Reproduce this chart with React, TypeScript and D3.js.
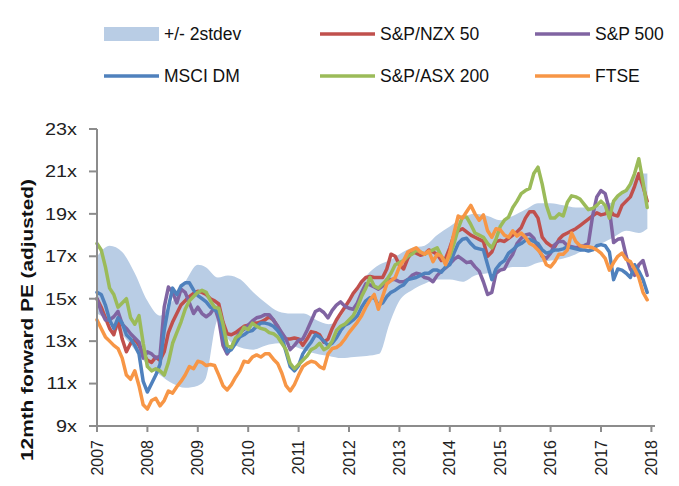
import React from 'react';
import * as d3 from 'd3';

// monthly readings, Jan 2007 .. Dec 2017
const nzx50 = [15.0, 14.6, 14.1, 13.6, 13.3, 14.0, 13.1, 12.5, 12.9, 13.1, 12.8, 12.4,
  12.1, 12.0, 12.25, 12.1, 12.5, 13.4, 13.9, 14.3, 14.7, 14.9, 15.1, 15.25,
  15.35, 15.3, 15.2, 15.0, 14.9, 14.75, 13.9, 13.35, 13.3, 13.4, 13.55, 13.7,
  13.75, 13.85, 13.85, 13.9, 14.0, 14.15, 14.0, 13.7, 13.3, 13.1, 13.1, 13.15,
  13.1, 12.8, 13.1, 13.45, 13.4, 13.3, 12.95, 13.1, 13.6, 14.0, 14.3, 14.6,
  14.9, 15.25, 15.5, 15.8, 16.0, 16.05, 16.0, 16.0, 16.0, 16.4, 17.1, 17.0,
  16.6, 16.4, 16.9, 17.2, 17.15, 17.05, 17.1, 17.3, 17.2, 17.1, 16.8, 16.9,
  17.4, 18.0, 18.2, 18.3, 18.15, 18.0, 17.9, 17.8, 17.7, 17.0, 17.2, 17.7,
  17.75, 17.7, 17.85, 18.0, 18.15, 18.35, 18.8, 19.1, 19.1, 18.8, 17.9, 17.65,
  17.5, 17.45, 17.8, 18.0, 18.1, 18.2, 18.3, 18.45, 18.6, 18.75, 18.9, 19.05,
  18.95, 19.0, 19.2, 18.95, 18.9, 19.4, 19.6, 19.8, 20.3, 20.9, 20.3, 19.6];

const sp500 = [15.0, 14.4, 14.0, 14.0, 14.15, 14.4, 13.8, 13.6, 13.35, 13.15, 12.95, 12.2,
  12.5, 12.4, 12.2, 12.3, 14.6, 15.55, 15.3, 14.8, 15.45, 15.3, 14.8, 14.3,
  14.6, 14.3, 14.15, 14.3, 14.6, 14.0, 12.8, 12.4, 12.7, 13.1, 13.4, 13.55,
  13.75, 13.95, 14.1, 14.15, 14.25, 14.25, 14.0, 13.7, 13.4, 13.1, 12.6, 12.8,
  13.05, 13.1, 13.5, 13.95, 14.4, 14.5, 14.35, 14.1, 14.45, 14.7, 14.85, 14.65,
  14.55, 14.5, 14.8, 15.3, 15.7, 15.65, 15.55, 15.45, 15.6, 15.9, 15.9, 15.9,
  15.8, 15.8, 15.9, 16.1, 16.2, 16.15, 16.0, 15.95, 15.8, 16.1, 16.3, 16.45,
  16.65, 16.85, 17.0, 16.85, 16.7, 16.75, 16.5, 16.3, 15.8, 15.2, 15.3, 16.2,
  16.35, 16.4, 16.8, 17.1, 17.6, 17.85, 18.0, 18.05, 17.85, 17.4, 17.0, 16.9,
  17.15, 17.55, 17.7, 17.7, 17.5, 17.45, 17.4, 17.45, 17.5, 17.6, 18.9, 19.8,
  20.1, 19.95, 19.2, 17.65, 17.8, 17.85, 17.0, 16.4, 16.1, 16.6, 16.8, 16.1];

const msciDm = [15.3, 15.2, 14.7, 14.0, 13.6, 14.1, 13.85, 13.3, 13.1, 12.8, 12.4, 11.1,
  10.6, 11.0, 11.4, 11.9, 13.5, 14.6, 15.5, 15.2, 15.6, 15.75, 15.75, 15.4,
  15.15, 15.0, 14.85, 14.6, 14.5, 14.3, 13.4, 12.5, 12.6, 12.9, 13.2, 13.3,
  13.45, 13.5, 13.7, 13.85, 13.85, 13.8, 13.7, 13.5, 13.2, 12.5, 11.8, 11.6,
  11.85, 12.4, 12.7, 12.95, 13.3, 13.2, 13.0, 12.8, 12.9, 13.15, 13.5, 13.75,
  13.85, 14.0, 14.2, 14.6, 14.9, 15.05, 15.05, 14.7, 14.8, 15.1, 15.3, 15.4,
  15.55, 15.65, 15.9, 15.95, 16.0, 16.1, 16.2, 16.2, 16.35, 16.35, 16.25, 16.5,
  16.6, 17.15, 17.6, 17.8, 17.85, 17.6, 17.4, 17.35, 17.3, 16.6, 15.9, 16.4,
  16.65, 16.8, 17.15, 17.3, 17.5, 17.6, 17.75, 17.8, 17.7, 17.6, 17.3, 17.15,
  17.2, 17.3, 17.3, 17.35, 17.45, 17.4, 17.35, 17.3, 17.3, 17.25, 17.3, 17.5,
  17.55, 17.5, 17.2, 15.9, 16.4, 16.35, 16.2, 16.0, 16.6, 16.3, 15.9, 15.3];

const asx200 = [17.6, 17.3, 16.5, 15.5, 15.2, 14.6, 14.8, 15.0, 14.1, 13.8, 14.2, 12.9,
  11.8, 11.6, 11.7, 11.6, 11.4, 12.0, 12.9, 13.4, 13.9, 14.5, 14.9, 15.1,
  15.3, 15.4, 15.3, 14.9, 14.6, 14.55, 13.8, 12.8, 12.7, 13.15, 13.3, 13.65,
  13.55, 13.85, 13.7, 13.6, 13.55, 13.4, 13.35, 13.2, 12.9, 12.6, 11.95, 11.7,
  11.9, 12.1, 12.3, 12.6, 12.7, 12.9, 12.6, 12.7, 13.0, 13.5, 13.7, 13.8,
  14.0, 14.2, 14.6, 15.1, 15.5, 16.0, 15.6, 15.5, 15.7, 15.9, 16.2, 16.6,
  16.7, 16.8, 17.0, 17.1, 17.3, 17.2, 17.1, 17.2, 17.3, 17.4, 17.0, 16.7,
  17.0, 17.6, 18.3, 18.85, 18.85, 18.5, 18.1, 18.0, 17.9, 17.6, 17.4, 17.8,
  18.4, 18.7, 18.85, 19.3, 19.6, 19.95, 20.1, 20.2, 20.9, 21.2, 20.4, 19.4,
  18.8, 18.8, 19.0, 18.9, 19.55, 19.85, 19.8, 19.7, 19.45, 19.2, 19.25, 19.4,
  19.6, 19.4, 18.8, 19.6, 19.85, 20.0, 20.1, 20.4, 20.9, 21.6, 20.5, 19.3];

const ftse = [14.0, 13.6, 13.2, 13.0, 12.8, 12.65, 12.2, 11.4, 11.2, 11.6, 10.9, 10.0,
  9.8, 10.2, 10.3, 9.95, 10.2, 10.65, 10.55, 10.85, 11.1, 11.4, 11.8, 11.7,
  12.05, 12.0, 11.85, 11.9, 11.85, 11.4, 10.9, 10.7, 10.95, 11.3, 11.6, 12.05,
  12.0, 12.25, 12.35, 12.25, 12.4, 12.4, 12.15, 11.95, 11.5, 10.9, 10.65, 10.95,
  11.4, 11.8, 11.95, 12.05, 12.0, 11.8, 11.7, 12.4, 12.65, 12.7, 12.85, 13.1,
  13.4, 13.65, 13.9, 14.2, 14.6, 14.95, 15.2, 14.5, 15.1, 15.7, 15.85, 16.0,
  16.5, 16.8, 17.2, 17.3, 17.4, 17.2, 17.1, 17.25, 16.75, 17.1, 17.0, 16.6,
  17.2, 18.1, 18.9, 18.8, 19.1, 19.4, 19.0, 18.7, 18.95, 18.2, 17.9, 18.3,
  18.25, 18.0, 17.9, 18.2, 17.95, 18.1, 17.9, 17.6, 17.5, 17.3, 17.05, 16.6,
  16.5, 16.75, 17.1, 17.1, 17.3, 18.1, 17.7, 17.5, 17.45, 17.45, 17.4, 17.3,
  17.15, 16.9, 16.35, 16.7, 17.0, 17.15, 16.85, 16.75, 16.4, 16.0, 15.3, 14.95];

// +/- 2 stdev band
const bandYears = [2007.0, 2007.25, 2007.5, 2007.75, 2008.0, 2008.25, 2008.5, 2008.75,
  2009.0, 2009.15, 2009.4, 2009.6, 2009.85, 2010.1, 2010.35, 2010.6, 2010.85,
  2011.1, 2011.35, 2011.6, 2011.85, 2012.1, 2012.35, 2012.6, 2012.8, 2013.0,
  2013.25, 2013.5, 2013.75, 2014.0, 2014.25, 2014.5, 2014.75, 2015.0, 2015.25,
  2015.5, 2015.75, 2016.0, 2016.25, 2016.5, 2016.75, 2017.0, 2017.25, 2017.5,
  2017.75, 2017.92];
const bandUpper = [17.0, 17.5, 17.2, 16.2, 14.9, 14.2, 14.9, 15.8,
  16.6, 16.5, 16.0, 16.1, 15.9, 15.3, 14.8, 14.4, 14.3,
  14.3, 14.0, 13.8, 14.2, 15.3, 16.1, 16.6, 16.8, 17.1,
  17.4, 17.5, 18.0, 18.4, 18.8, 19.0, 18.9, 18.7, 18.9,
  19.2, 19.5, 19.5, 19.4, 19.3, 19.3, 19.4, 19.6, 20.2,
  20.9, 20.9];
const bandLower = [14.3, 13.9, 13.3, 12.6, 11.9, 11.4, 11.0, 10.8,
  10.9, 11.2, 14.0, 13.1, 12.7, 12.6, 12.8, 12.9, 12.8,
  12.6, 12.4, 12.3, 12.2, 12.25, 12.3, 12.4, 13.8, 14.9,
  15.4, 15.7, 15.9, 15.9, 15.8, 16.1, 16.2, 16.3, 16.5,
  16.5, 16.7, 16.8, 16.9, 17.1, 17.4, 17.6, 17.9, 18.2,
  18.1, 18.3];

const yTicks = [9, 11, 13, 15, 17, 19, 21, 23];
const xTicks = [2007, 2008, 2009, 2010, 2011, 2012, 2013, 2014, 2015, 2016, 2017, 2018];

const series = [
  { name: 'S&P/NZX 50', values: nzx50, color: '#c0504d' },
  { name: 'S&P 500', values: sp500, color: '#8064a2' },
  { name: 'MSCI DM', values: msciDm, color: '#4f81bd' },
  { name: 'S&P/ASX 200', values: asx200, color: '#9bbb59' },
  { name: 'FTSE', values: ftse, color: '#f79646' },
];

const bandColor = '#b9cde5';
const axisColor = '#8c8c8c';
const font = '"Liberation Sans", Arial, sans-serif';

export default function App() {
  const x = d3.scaleLinear().domain([2007, 2018]).range([97, 651.4]);
  const y = d3.scaleLinear().domain([9, 23]).range([426, 129]);

  const area = d3.area<number>()
    .x((d, i) => x(bandYears[i]))
    .y0((d, i) => y(bandLower[i]))
    .y1((d) => y(d))
    .curve(d3.curveMonotoneX);

  const line = d3.line<number>()
    .x((d, i) => x(2007 + i / 12))
    .y((d) => y(d));

  const legendRows = [
    [{ type: 'band', name: '+/- 2stdev', color: bandColor }, series[0], series[1]],
    [series[2], series[3], series[4]],
  ];
  const legendX = [104, 320, 535];
  const legendY = [34, 76];

  return (
    <svg width={679} height={486} style={{ position: 'absolute', left: 0, top: 0, background: '#fff' }}>
      {legendRows.map((row, r) => row.map((item: any, c) => (
        <g key={r + '-' + c} transform={`translate(${legendX[c]},${legendY[r]})`}>
          {item.type === 'band'
            ? <rect x={0} y={-7} width={55} height={14} fill={item.color} />
            : <line x1={0} x2={55} y1={0} y2={0} stroke={item.color} strokeWidth={3.5} />}
          <text x={60} y={0} dy="0.35em" fontFamily={font} fontSize={17.5} fill="#111">{item.name}</text>
        </g>
      )))}

      <path d={area(bandUpper) || ''} fill={bandColor} />

      {series.map((s) => (
        <path key={s.name} d={line(s.values) || ''} fill="none" stroke={s.color}
          strokeWidth={3.5} strokeLinejoin="round" strokeLinecap="round" />
      ))}

      {/* y axis */}
      <line x1={97} x2={97} y1={y(23)} y2={y(9)} stroke={axisColor} strokeWidth={2} />
      {yTicks.map((t) => (
        <g key={t}>
          <line x1={89} x2={97} y1={y(t)} y2={y(t)} stroke={axisColor} strokeWidth={2} />
          <text transform={`translate(77,${y(t)}) scale(1.2,1)`} textAnchor="end" dy="0.35em"
            fontFamily={font} fontSize={16.5} fill="#222">{t}x</text>
        </g>
      ))}

      {/* x axis */}
      <line x1={96} x2={655} y1={426} y2={426} stroke={axisColor} strokeWidth={2} />
      {xTicks.map((t) => (
        <g key={t}>
          <line x1={x(t)} x2={x(t)} y1={426} y2={432} stroke={axisColor} strokeWidth={2} />
          <text transform={`translate(${x(t)},440) rotate(-90)`} textAnchor="end" dy="0.35em"
            fontFamily={font} fontSize={16} fill="#222">{t}</text>
        </g>
      ))}

      <text transform="translate(27,320) rotate(-90)" textAnchor="middle" dy="0.35em"
        fontFamily={font} fontSize={17} fontWeight="bold" fill="#111"
        textLength={282} lengthAdjust="spacingAndGlyphs">12mth forward PE (adjusted)</text>
    </svg>
  );
}
